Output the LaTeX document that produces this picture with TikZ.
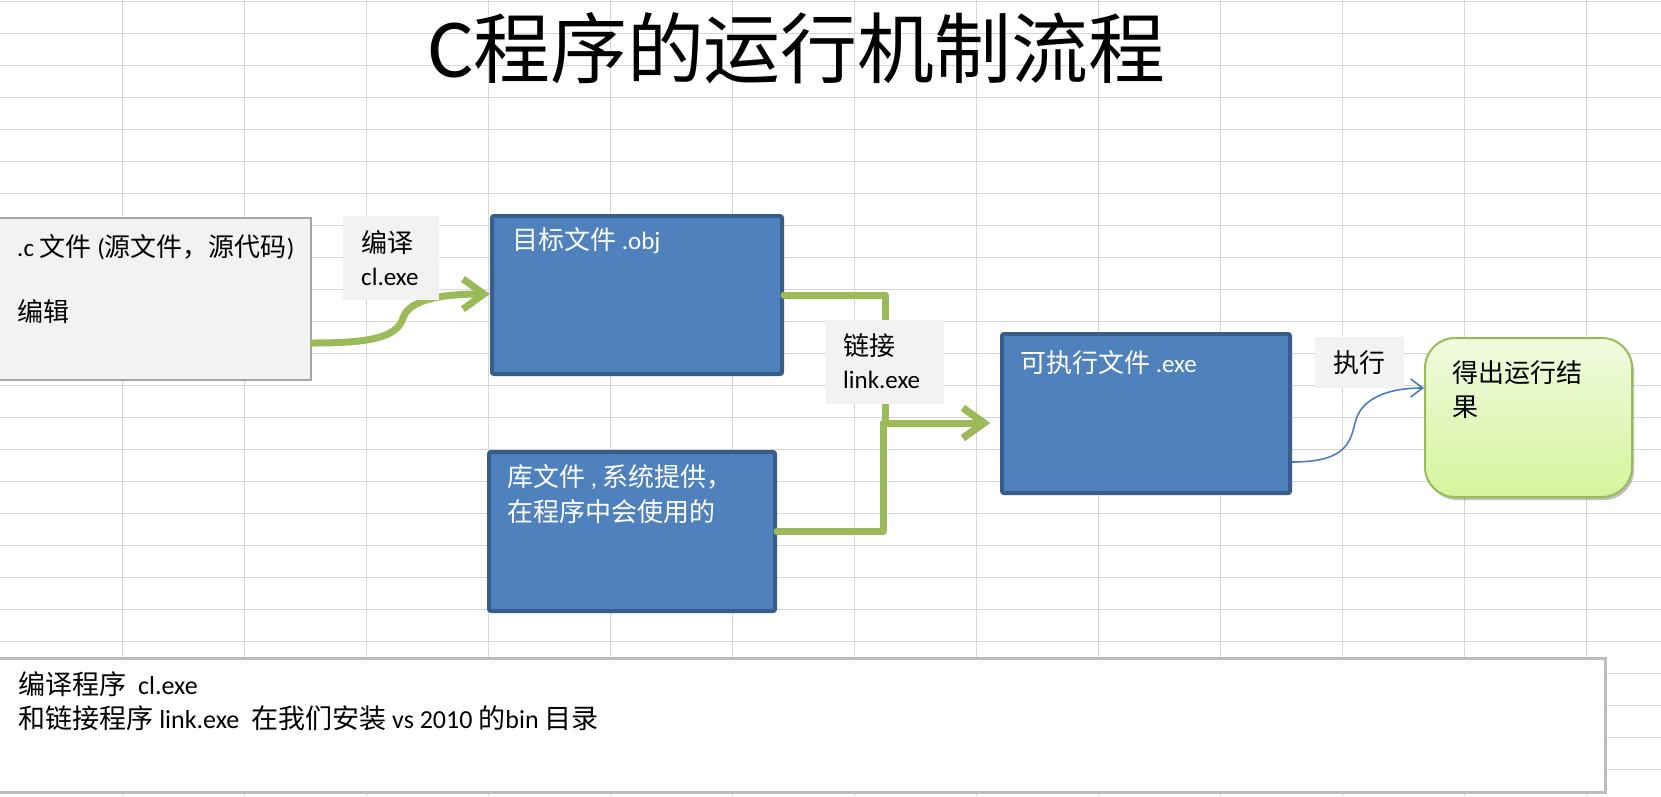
\documentclass[tikz,border=0pt]{standalone}
\usepackage{fontspec}
\setmainfont{Carlito}
\newfontfamily\cjk[Scale=1.04]{Noto Sans CJK SC}
\usetikzlibrary{arrows.meta,calc,shadows}
\newcommand\zhtext[1]{{\cjk #1}}

\definecolor{gridc}{HTML}{D6D6D6}
\definecolor{paneF}{HTML}{F2F2F2}
\definecolor{paneD}{HTML}{A6A6A6}
\definecolor{blueF}{HTML}{4F81BD}
\definecolor{blueD}{HTML}{385D8A}
\definecolor{blueL}{HTML}{4A7EBB}
\definecolor{greenL}{HTML}{9BBB59}
\definecolor{resTop}{HTML}{F1FADF}
\definecolor{resBot}{HTML}{D5F49C}
\definecolor{noteD}{HTML}{BDBDBD}

\tikzset{
  gridl/.style={draw=gridc, line width=1pt},
  srcbox/.style={rectangle, fill=paneF, draw=paneD, line width=2pt, inner sep=0pt},
  tagbox/.style={rectangle, fill=paneF, inner sep=0pt},
  filebox/.style={rectangle, fill=blueF, draw=blueD, line width=4pt, rounded corners=2pt, inner sep=0pt},
  resbox/.style={rectangle, rounded corners=30pt, draw=greenL, line width=2pt, top color=resTop, bottom color=resBot, inner sep=0pt,
    drop shadow={shadow xshift=2pt, shadow yshift=-3pt, opacity=0.25, fill=black}},
  notebox/.style={rectangle, fill=white, draw=noteD, line width=3pt, inner sep=0pt},
  txt/.style={anchor=west, inner sep=0pt, font=\fontsize{25}{30}\selectfont},
  wtxt/.style={txt, text=white},
  ntxt/.style={txt, font=\fontsize{26}{30}\selectfont},
  gconn/.style={draw=greenL, line width=7pt, line join=round, line cap=round,
    -{Straight Barb[length=21pt,width=30pt]},
    preaction={draw=black, opacity=0.12, transform canvas={xshift=1.5pt,yshift=-2.5pt}}},
  bconn/.style={draw=blueL, line width=1.6pt, -{Straight Barb[length=12pt,width=18pt]}}
}

\begin{document}
\begin{tikzpicture}[x=1pt, y=-1pt]
\useasboundingbox (0,0) rectangle (1661,796);
\fill[white] (0,0) rectangle (1661,796);

% worksheet grid
\foreach \k in {1,...,13} \draw[gridl] (122*\k,0) -- (122*\k,796);
\foreach \k in {0,...,24} \draw[gridl] (0,1.3+32*\k) -- (1661,1.3+32*\k);

% title
\node[inner sep=0pt, font=\fontsize{74}{80}\selectfont] (title) at (797,48)
  {{\fontsize{84}{84}\selectfont C}\zhtext{程序的运行机制流程}};

% file boxes
\node[srcbox, minimum width=321pt, minimum height=162pt] (src) at (150.5,299) {};
\node[filebox, minimum width=290pt, minimum height=158pt] (obj) at (637,295) {};
\node[filebox, minimum width=286pt, minimum height=159pt] (lib) at (632,531.5) {};
\node[filebox, minimum width=288pt, minimum height=159pt] (exe) at (1146,413.5) {};
\node[resbox, minimum width=207pt, minimum height=159pt] (res) at (1528.5,417.5) {};
\node[notebox, minimum width=1612pt, minimum height=134pt] (note) at (799.5,725.5) {};

% connectors
\draw[gconn] ($(src.east)+(1,44)$) .. controls (372,343) and (397,337) .. (403,318)
  .. controls (409,300) and (440,294) .. ($(obj.west)+(0,-1)$);
\draw[gconn] (obj.east) -- ++(101,0) |- ($(exe.west)+(-10,9.5)$);
\draw[gconn] (lib.east) -- ++(106,0) |- ($(exe.west)+(-10,9.5)$);
\draw[bconn] ($(exe.east)+(0,48.5)$) .. controls (1343,462) and (1350,445) .. (1355,423)
  .. controls (1360,400) and (1385,388) .. ($(res.west)+(0,-29.5)$);

% connector tags, drawn over the lines
\node[tagbox, minimum width=96pt, minimum height=84pt] (tagcl) at (391,258) {};
\node[tagbox, minimum width=118pt, minimum height=84pt] (taglink) at (885,362) {};
\node[tagbox, minimum width=89pt, minimum height=51pt] (tagrun) at (1359.5,362.5) {};

% texts
\node[txt] (srcA) at (17,247) {.c \zhtext{文件} (\zhtext{源文件，源代码})};
\node[txt] (srcB) at (17,312) {\zhtext{编辑}};
\node[txt] (clA) at (361,243) {\zhtext{编译}};
\node[txt] (clB) at (361,277) {cl.exe};
\node[wtxt] (objA) at (512,241) {\zhtext{目标文件} .obj};
\node[txt] (linkA) at (843,346) {\zhtext{链接}};
\node[txt] (linkB) at (843,380) {link.exe};
\node[wtxt] (libA) at (507,477) {\zhtext{库文件} , \zhtext{系统提供，}};
\node[wtxt] (libB) at (507,512) {\zhtext{在程序中会使用的}};
\node[wtxt] (exeA) at (1020,363) {\zhtext{可执行文件} .exe};
\node[txt] (runA) at (1333,363) {\zhtext{执行}};
\node[txt] (resA) at (1452,373) {\zhtext{得出运行结}};
\node[txt] (resB) at (1452,407) {\zhtext{果}};
\node[ntxt] (noteA) at (18,684) {\zhtext{编译程序}\ \ cl.exe};
\node[ntxt] (noteB) at (18,718) {\zhtext{和链接程序} link.exe\ \ \zhtext{在我们安装} vs 2010 \zhtext{的}bin \zhtext{目录}};
\end{tikzpicture}
\end{document}
